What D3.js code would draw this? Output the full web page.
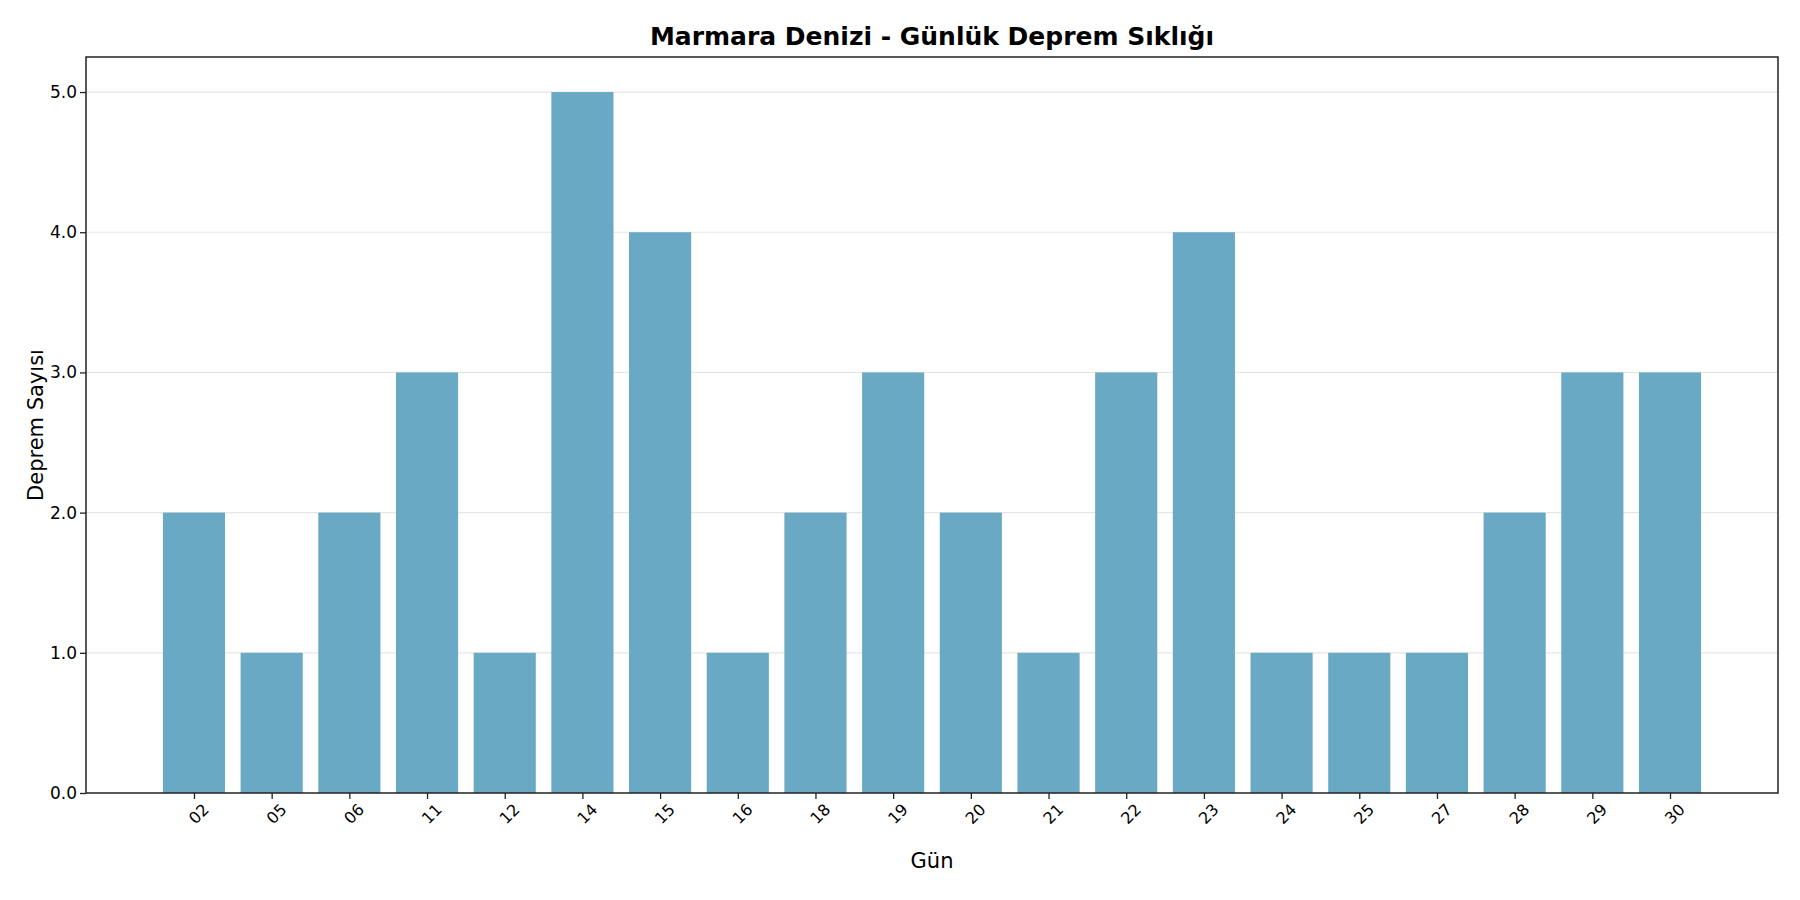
<!DOCTYPE html><html><head><meta charset="utf-8"><script src="https://cdn.jsdelivr.net/npm/d3@7"></script>
<style>body{margin:0;background:#fff}text{font-family:"DejaVu Sans",sans-serif}</style></head><body><svg id="c" width="1800" height="900"></svg><script>
const days=["02","05","06","11","12","14","15","16","18","19","20","21","22","23","24","25","27","28","29","30"];
const counts=[2,1,2,3,1,5,4,1,2,3,2,1,3,4,1,1,1,2,3,3];
const yTicks=[0,1,2,3,4,5];
const svg=d3.select("#c");
const L=86,R=1778,T=57,B=793;
const x=d3.scaleLinear().domain([-1.39,days.length-1+1.39]).range([L,R]);
const y=d3.scaleLinear().domain([0,5.25]).range([B,T]);
const bw=x(0.8)-x(0);
svg.append("g").selectAll("line").data(yTicks.slice(1)).join("line").attr("x1",L).attr("x2",R).attr("y1",d=>y(d)).attr("y2",d=>y(d)).attr("stroke","#e6e6e6").attr("stroke-width",1.2);
svg.append("g").selectAll("rect").data(counts).join("rect").attr("x",(d,i)=>x(i)-bw/2).attr("width",bw).attr("y",d=>y(d)).attr("height",d=>B-y(d)).attr("fill","#6aa9c4");
const gx=svg.append("g").attr("transform",`translate(0,${B})`).call(d3.axisBottom(x).tickValues(d3.range(days.length)).tickFormat(i=>days[i]).tickSize(6).tickSizeOuter(0));
gx.selectAll("text").attr("font-size",16).attr("text-anchor","end").attr("dx","-0.1em").attr("dy","0.9em").attr("transform","rotate(-45)");
const gy=svg.append("g").attr("transform",`translate(${L},0)`).call(d3.axisLeft(y).tickValues(yTicks).tickSize(6).tickSizeOuter(0));
gy.selectAll("text").attr("font-size",17).attr("fill","#000");
svg.selectAll(".domain").remove();
svg.selectAll(".tick line").attr("stroke","#222").attr("stroke-width",1.3);
svg.selectAll(".tick text").attr("fill","#000");
svg.append("rect").attr("x",L).attr("y",T).attr("width",R-L).attr("height",B-T).attr("fill","none").attr("stroke","#222").attr("stroke-width",1.5);
svg.append("text").attr("x",(L+R)/2).attr("y",45).attr("text-anchor","middle").attr("font-size",25).attr("font-weight","bold").text("Marmara Denizi - Günlük Deprem Sıklığı");
svg.append("text").attr("x",(L+R)/2).attr("y",868).attr("text-anchor","middle").attr("font-size",21).text("Gün");
svg.append("text").attr("transform",`translate(43,${(T+B)/2}) rotate(-90)`).attr("text-anchor","middle").attr("font-size",21).text("Deprem Sayısı");
</script></body></html>
